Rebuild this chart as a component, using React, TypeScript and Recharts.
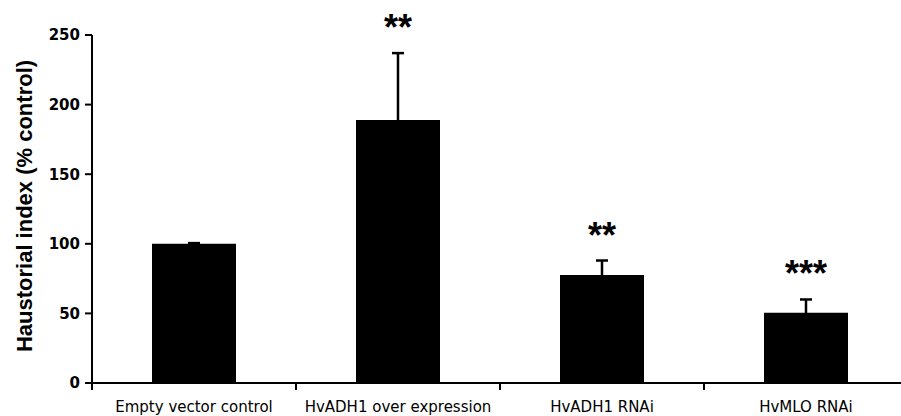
import React from 'react';
import { ComposedChart, Bar, Line, XAxis, YAxis, ErrorBar, LabelList } from 'recharts';

const categories = ['Empty vector control', 'HvADH1 over expression', 'HvADH1 RNAi', 'HvMLO RNAi'];
const values = [100, 189, 77.5, 50.5];
const errors = [0.5, 48, 10.5, 9.5];
const stars = ['', '**', '**', '***'];
const yTicks = [0, 50, 100, 150, 200, 250];

const data = categories.map((name, i) => ({ name, value: values[i], err: errors[i], stars: stars[i] }));

const XTick = (props: any) => {
  const { x, y, payload } = props;
  const off = payload && typeof payload.offset === 'number' ? payload.offset : 0;
  return (
    <g>
      <line x1={x - off} x2={x - off} y1={y - 18} y2={y - 11} stroke="#000" strokeWidth={2} />
      <text x={x} y={y} dy="0.71em" textAnchor="middle" fill="#000" fontSize={15} fontFamily="'DejaVu Sans', sans-serif">
        {payload.value}
      </text>
    </g>
  );
};

const StarLabel = (props: any) => {
  const { x, y, value } = props;
  if (!value) return null;
  return (
    <text x={x} y={y - 13} textAnchor="middle" fill="#000" fontSize={36} fontWeight="bold" fontFamily="'Liberation Sans', Arial, sans-serif">
      {value}
    </text>
  );
};

const YLabel = (props: any) => {
  const vb = props.viewBox || { x: 0, y: 35, width: 92, height: 348 };
  const cx = vb.x + 32;
  const cy = vb.y + vb.height / 2 - 3;
  return (
    <text x={cx} y={cy} transform={`rotate(-90, ${cx}, ${cy})`} textAnchor="middle" fill="#000" fontSize={22} fontWeight="bold" fontFamily="'Liberation Sans', Arial, sans-serif">
      Haustorial index (% control)
    </text>
  );
};

export default function App() {
  return (
    <div style={{ position: 'absolute', left: 0, top: 0, width: 901, height: 416, overflow: 'hidden', background: '#fff' }}>
      <ComposedChart width={920} height={416} data={data} margin={{ top: 35, right: 12, left: 0, bottom: 0 }}>
        <XAxis
          dataKey="name"
          height={33}
          tickSize={7}
          tickMargin={11}
          tickLine={false}
          axisLine={{ stroke: '#000', strokeWidth: 2 }}
          tick={<XTick />}
          interval={0}
        />
        <YAxis
          width={92}
          domain={[0, 250]}
          ticks={yTicks}
          tickSize={7}
          tickMargin={5}
          axisLine={{ stroke: '#000', strokeWidth: 2 }}
          tickLine={{ stroke: '#000', strokeWidth: 2 }}
          tick={{ fill: '#000', fontSize: 15, fontWeight: 'bold', fontFamily: "'DejaVu Sans', sans-serif" }}
          label={{ content: <YLabel /> }}
        />
        <Bar dataKey="value" fill="#000" barSize={84} isAnimationActive={false}>
          <ErrorBar dataKey="err" direction="y" width={6} stroke="#000" strokeWidth={2.5} />
        </Bar>
        <Line
          dataKey={(d: any) => d.value + d.err}
          stroke="none"
          dot={false}
          activeDot={false}
          legendType="none"
          isAnimationActive={false}
        >
          <LabelList dataKey="stars" content={<StarLabel />} />
        </Line>
      </ComposedChart>
    </div>
  );
}
